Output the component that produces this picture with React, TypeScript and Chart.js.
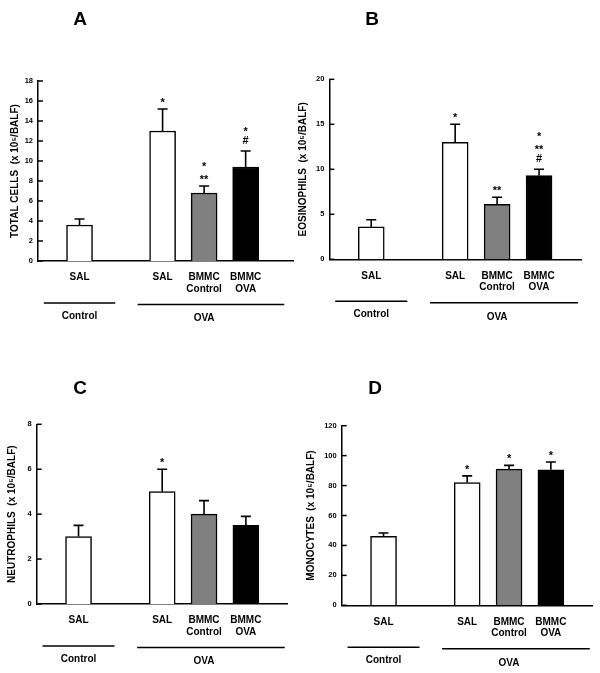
import { useEffect, useRef } from 'react';
import { Chart, registerables } from 'chart.js';

Chart.register(...registerables);

// ---- data ----
const xPositions = [0, 2, 3, 4];
const categoryLabels = [['SAL'], ['SAL'], ['BMMC', 'Control'], ['BMMC', 'OVA']];
const barColors = ['#ffffff', '#ffffff', '#808080', '#000000'];
const groupLabels = ['Control', 'OVA'];

const totalCells = [3.6, 13.0, 6.8, 9.4];
const totalCellsErr = [0.6, 2.2, 0.7, 1.6];
const totalCellsMarks = [[], ['*'], ['*', '**'], ['*', '#']];

const eosinophils = [3.6, 13.0, 6.1, 9.3];
const eosinophilsErr = [0.8, 2.0, 0.8, 0.7];
const eosinophilsMarks = [[], ['*'], ['**'], ['*', '**', '#']];

const neutrophils = [3.0, 5.0, 4.0, 3.5];
const neutrophilsErr = [0.5, 1.0, 0.6, 0.4];
const neutrophilsMarks = [[], ['*'], [], []];

const monocytes = [46, 82, 91, 90.5];
const monocytesErr = [2.3, 4.5, 2.5, 5.2];
const monocytesMarks = [[], ['*'], ['*'], ['*']];

// ---- layout ----
const FONT = "'Liberation Sans', Arial, Helvetica, sans-serif";
const groupSpans = [
  { from: -0.86, to: 0.86, center: 0, lineOff: 42, labelOff: 55 },
  { from: 1.4, to: 4.93, center: 3, lineOff: 43.5, labelOff: 57.5 },
];

type Panel = {
  letter: string;
  yTitle: string;
  values: number[];
  errors: number[];
  marks: string[][];
  yMax: number;
  yStep: number;
  xMax: number;
  canvas: { left: number; top: number; width: number; height: number };
  area: { left: number; right: number; top: number; bottom: number };
  letterX: number;
  letterY: number;
  yTitleX: number;
};

const panels: Panel[] = [
  {
    letter: 'A',
    yTitle: 'TOTAL CELLS  (x 10\u2075/BALF)',
    values: totalCells,
    errors: totalCellsErr,
    marks: totalCellsMarks,
    yMax: 18,
    yStep: 2,
    xMax: 5.14,
    canvas: { left: 0, top: 0, width: 300, height: 330 },
    area: { left: 38, right: 293, top: 81, bottom: 261 },
    letterX: 80,
    letterY: 18,
    yTitleX: 15,
  },
  {
    letter: 'B',
    yTitle: 'EOSINOPHILS  (x 10\u2075/BALF)',
    values: eosinophils,
    errors: eosinophilsErr,
    marks: eosinophilsMarks,
    yMax: 20,
    yStep: 5,
    xMax: 5.0,
    canvas: { left: 290, top: 0, width: 310, height: 330 },
    area: { left: 39.3, right: 291, top: 79.3, bottom: 259.3 },
    letterX: 82,
    letterY: 18,
    yTitleX: 13.5,
  },
  {
    letter: 'C',
    yTitle: 'NEUTROPHILS  (x 10\u2075/BALF)',
    values: neutrophils,
    errors: neutrophilsErr,
    marks: neutrophilsMarks,
    yMax: 8,
    yStep: 2,
    xMax: 5.0,
    canvas: { left: 0, top: 330, width: 300, height: 343 },
    area: { left: 36.7, right: 287.7, top: 94.3, bottom: 274 },
    letterX: 80,
    letterY: 56.7,
    yTitleX: 12,
  },
  {
    letter: 'D',
    yTitle: 'MONOCYTES  (x 10\u2075/BALF)',
    values: monocytes,
    errors: monocytesErr,
    marks: monocytesMarks,
    yMax: 120,
    yStep: 20,
    xMax: 5.0,
    canvas: { left: 290, top: 330, width: 310, height: 343 },
    area: { left: 51.7, right: 302.7, top: 95.7, bottom: 275.3 },
    letterX: 85,
    letterY: 56.7,
    yTitleX: 21.7,
  },
];

function makeDecor(p: Panel) {
  return {
    id: 'decor' + p.letter,
    afterDatasetsDraw(chart: any) {
      const { ctx, chartArea } = chart;
      const x = chart.scales.x;
      const y = chart.scales.y;
      ctx.save();
      ctx.strokeStyle = '#000';
      ctx.fillStyle = '#000';
      ctx.lineCap = 'butt';

      // inward y tick marks
      ctx.lineWidth = 1.5;
      y.ticks.forEach((t: any) => {
        const py = y.getPixelForValue(t.value);
        ctx.beginPath();
        ctx.moveTo(chartArea.left, py);
        ctx.lineTo(chartArea.left + 5, py);
        ctx.stroke();
      });

      // error bars + significance marks
      p.values.forEach((v, i) => {
        const px = x.getPixelForValue(xPositions[i]);
        const top = y.getPixelForValue(v);
        const cap = y.getPixelForValue(v + p.errors[i]);
        ctx.lineWidth = 1.6;
        ctx.beginPath();
        ctx.moveTo(px, top);
        ctx.lineTo(px, cap);
        ctx.moveTo(px - 5, cap);
        ctx.lineTo(px + 5, cap);
        ctx.stroke();

        const ms = p.marks[i];
        let base = cap - 7.5;
        ctx.font = `bold 11px ${FONT}`;
        ctx.textAlign = 'center';
        ctx.textBaseline = 'alphabetic';
        for (let k = ms.length - 1; k >= 0; k--) {
          const s = ms[k];
          const isStar = s.indexOf('*') >= 0;
          ctx.fillText(s, px, isStar ? base + 4.5 : base);
          base -= 13;
        }
      });

      // group lines and labels
      const axisY = chartArea.bottom;
      groupSpans.forEach((g, gi) => {
        const x1 = x.getPixelForValue(g.from);
        const x2 = x.getPixelForValue(g.to);
        ctx.lineWidth = 1.5;
        ctx.beginPath();
        ctx.moveTo(x1, axisY + g.lineOff);
        ctx.lineTo(x2, axisY + g.lineOff);
        ctx.stroke();
        ctx.font = `bold 10px ${FONT}`;
        ctx.textAlign = 'center';
        ctx.textBaseline = 'middle';
        ctx.fillText(groupLabels[gi], x.getPixelForValue(g.center), axisY + g.labelOff);
      });

      // panel letter
      ctx.font = `bold 19px ${FONT}`;
      ctx.textAlign = 'center';
      ctx.textBaseline = 'alphabetic';
      ctx.fillText(p.letter, p.letterX, p.letterY + 6.8);

      ctx.restore();
    },
  };
}

function PanelChart({ p }: { p: Panel }) {
  const ref = useRef<HTMLCanvasElement | null>(null);
  useEffect(() => {
    if (!ref.current) return;
    const { width, height } = p.canvas;
    const a = p.area;
    const chart = new Chart(ref.current, {
      type: 'bar',
      data: {
        datasets: [
          {
            data: xPositions.map((xv, i) => ({ x: xv, y: p.values[i] })) as any,
            backgroundColor: barColors,
            borderColor: '#000',
            borderWidth: 1.5,
            barThickness: 26,
          },
        ],
      },
      options: {
        animation: false,
        responsive: false,
        maintainAspectRatio: false,
        devicePixelRatio: 1,
        layout: { padding: { left: 0, top: a.top, right: width - a.right, bottom: 0 } },
        plugins: {
          legend: { display: false },
          tooltip: { enabled: false },
          title: { display: false },
        },
        scales: {
          x: {
            type: 'linear',
            offset: false,
            min: -1,
            max: p.xMax,
            grid: { display: false, drawTicks: false, offset: false },
            border: { display: true, color: '#000', width: 1.5 },
            afterBuildTicks: (s: any) => {
              s.ticks = xPositions.map((v) => ({ value: v }));
            },
            afterFit: (s: any) => {
              s.height = height - a.bottom;
            },
            ticks: {
              autoSkip: false,
              maxRotation: 0,
              minRotation: 0,
              padding: 11,
              color: '#000',
              font: { family: FONT, size: 10, weight: 'bold', lineHeight: 1.12 },
              callback: (v: any) => {
                const i = xPositions.indexOf(Number(v));
                return i >= 0 ? categoryLabels[i] : '';
              },
            },
          },
          y: {
            type: 'linear',
            min: 0,
            max: p.yMax,
            grid: { display: false, drawTicks: false },
            border: { display: true, color: '#000', width: 1.5 },
            afterFit: (s: any) => {
              s.width = a.left;
            },
            ticks: {
              stepSize: p.yStep,
              padding: 5,
              color: '#000',
              font: { family: FONT, size: 7.5, weight: 'bold' },
            },
            title: {
              display: true,
              text: p.yTitle,
              color: '#000',
              font: { family: FONT, size: 10, weight: 'bold' },
              padding: { top: p.yTitleX - 6, bottom: 0 },
            },
          },
        },
      } as any,
      plugins: [makeDecor(p)],
    });
    return () => chart.destroy();
  }, [p]);
  return (
    <canvas
      ref={ref}
      width={p.canvas.width}
      height={p.canvas.height}
      style={{
        position: 'absolute',
        left: p.canvas.left,
        top: p.canvas.top,
        width: p.canvas.width,
        height: p.canvas.height,
      }}
    />
  );
}

export default function App() {
  return (
    <div
      style={{
        position: 'absolute',
        left: 0,
        top: 0,
        width: 600,
        height: 673,
        background: '#fff',
        overflow: 'hidden',
      }}
    >
      {panels.map((p) => (
        <PanelChart key={p.letter} p={p} />
      ))}
    </div>
  );
}
